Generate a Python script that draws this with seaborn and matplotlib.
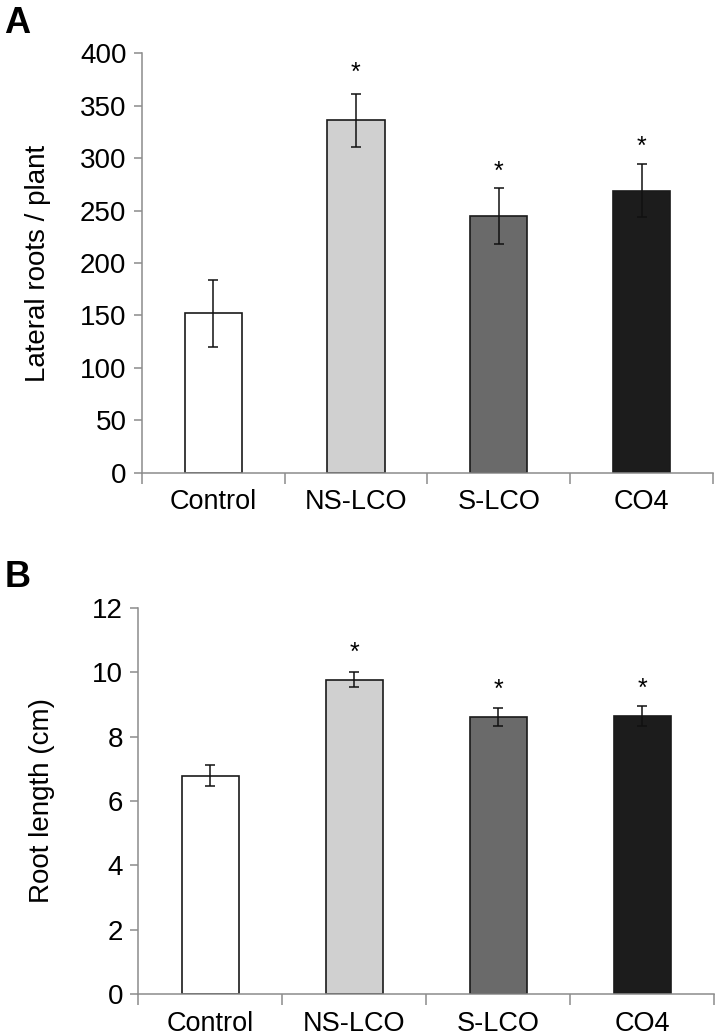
import pandas as pd
import seaborn as sns
import matplotlib.pyplot as plt

# Treatments and bar shades
groups = ['Control', 'NS-LCO', 'S-LCO', 'CO4']
bar_colors = ['#ffffff', '#d0d0d0', '#6a6a6a', '#1c1c1c']

# Panel A: lateral roots per plant (mean, error)
lateral_mean = [152, 336, 245, 269]
lateral_err = [32, 25, 27, 25]
lateral_star = [None, 387, 292, 316]

# Panel B: root length in cm (mean, error)
length_mean = [6.79, 9.77, 8.60, 8.63]
length_err = [0.33, 0.23, 0.28, 0.31]
length_star = [None, 10.78, 9.62, 9.65]

sns.set_style('ticks')
plt.rcParams['font.family'] = ['Liberation Sans', 'DejaVu Sans']
plt.rcParams['text.color'] = 'black'
plt.rcParams['axes.labelcolor'] = 'black'

fig = plt.figure(figsize=(7.22, 10.36), dpi=100)
ax_a = fig.add_axes([0.1963, 0.5437, 0.7913, 0.4048])
ax_b = fig.add_axes([0.1916, 0.0403, 0.7978, 0.3731])

axis_grey = '#8c8c8c'


def draw_panel(ax, means, errs, stars, ylabel, ymax, ystep, label_x):
    df = pd.DataFrame({'group': groups, 'value': means})
    sns.barplot(data=df, x='group', y='value', hue='group', palette=bar_colors,
                legend=False, width=0.4, saturation=1, errorbar=None,
                edgecolor='#1a1a1a', linewidth=1.2, ax=ax)
    ax.errorbar(range(len(groups)), means, yerr=errs, fmt='none',
                ecolor='#111111', elinewidth=1.1, capsize=3.8, capthick=1.1)
    # significance marks
    for i, s in enumerate(stars):
        if s is not None:
            ax.annotate('*', xy=(i, s), xytext=(0, -4), textcoords='offset points',
                        ha='center', va='center', fontsize=18)

    ax.set_xlim(-0.5, len(groups) - 0.5)
    ax.set_ylim(0, ymax)
    ax.set_yticks([v * ystep for v in range(int(ymax / ystep) + 1)])
    ax.set_xticks(range(len(groups)))
    ax.set_xticks([i - 0.5 for i in range(len(groups) + 1)], minor=True)
    ax.tick_params(axis='x', which='major', length=0, labelsize=19.5, pad=12,
                   labelcolor='black')
    ax.tick_params(axis='x', which='minor', length=8, width=1.1, color=axis_grey)
    ax.tick_params(axis='y', length=6, width=1.1, color=axis_grey,
                   labelsize=20, pad=5, labelcolor='black')
    ax.set_xlabel('')
    ax.set_ylabel(ylabel, fontsize=20)
    ax.yaxis.set_label_coords(label_x, 0.5)
    sns.despine(ax=ax)
    for side in ['left', 'bottom']:
        ax.spines[side].set_color(axis_grey)
        ax.spines[side].set_linewidth(1.1)


draw_panel(ax_a, lateral_mean, lateral_err, lateral_star,
           'Lateral roots / plant', 400, 50, -0.159)
draw_panel(ax_b, length_mean, length_err, length_star,
           'Root length (cm)', 12, 2, -0.144)

# Panel letters
fig.text(0.006, 0.994, 'A', fontsize=26, fontweight='bold', va='top')
fig.text(0.006, 0.459, 'B', fontsize=26, fontweight='bold', va='top')

fig.savefig('out.png', dpi=100)
